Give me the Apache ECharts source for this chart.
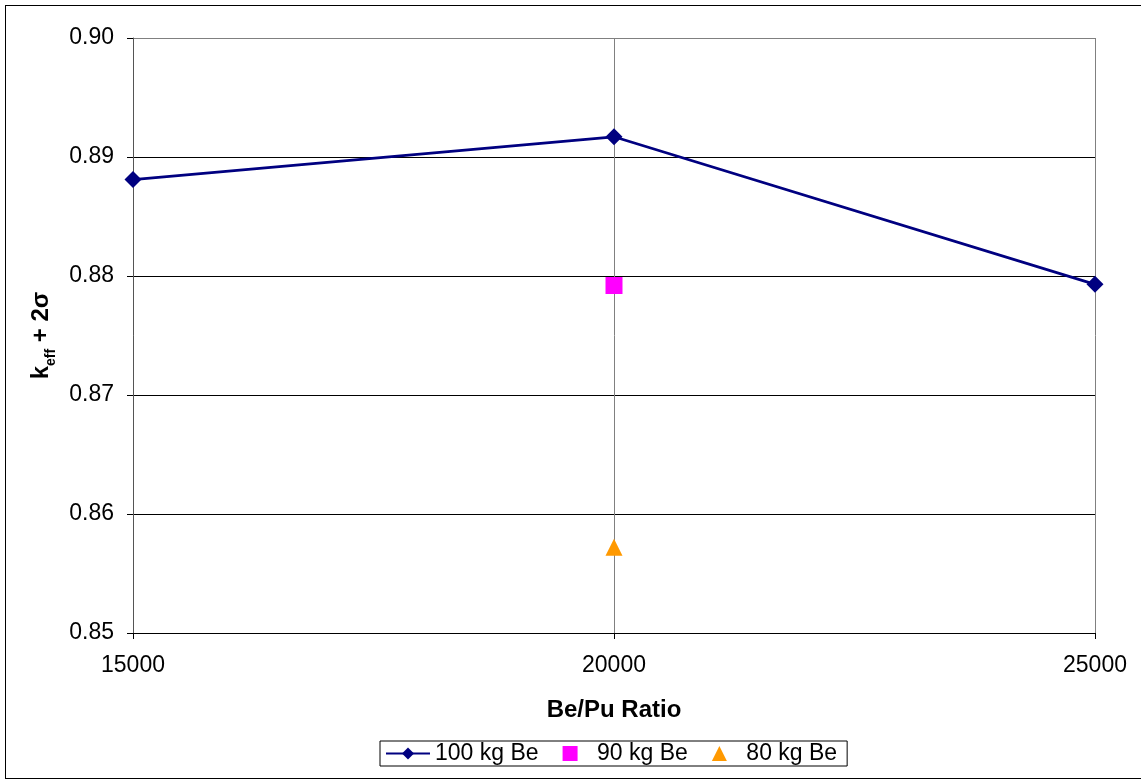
<!DOCTYPE html>
<html><head><meta charset="utf-8">
<script src="https://cdn.jsdelivr.net/npm/echarts@6/dist/echarts.min.js"></script>
<style>html,body{margin:0;padding:0;background:#fff}#c{width:1141px;height:780px;position:relative}
#frame{position:absolute;left:5px;top:5px;width:1140px;height:774px;border:1px solid #000;box-sizing:border-box;pointer-events:none}</style>
</head><body><div id="c"></div><div id="frame"></div>
<script>
const ratios = [15000, 20000, 25000];
const be100 = [0.8881, 0.8917, 0.8793];
const be90 = [[20000, 0.8792]];
const be80 = [[20000, 0.8572]];
const seriesNames = ['100 kg Be', '90 kg Be', '80 kg Be'];

const chart = echarts.init(document.getElementById('c'));
const font = 'Liberation Sans, Arial, sans-serif';
const fs = 23;
chart.setOption({
  animation: false,
  backgroundColor: '#fff',
  grid: {left: 133, right: 46, top: 38, bottom: 147, show: false},
  legend: {
    top: 741, left: 380,
    data: [
      {name: seriesNames[0]},
      {name: seriesNames[1], icon: 'path://M0,0h10v10h-10z'},
      {name: seriesNames[2], icon: 'path://M5,0L10,10L0,10z'}
    ],
    itemWidth: 44, itemHeight: 15, itemGap: 24,
    borderColor: '#000', borderWidth: 1, padding: [1, 10, 1, 5],
    textStyle: {fontFamily: font, fontSize: 23, color: '#000'}
  },
  xAxis: {
    type: 'value', min: 15000, max: 25000, interval: 5000,
    name: 'Be/Pu Ratio', nameLocation: 'middle', nameGap: 65,
    nameTextStyle: {fontFamily: font, fontSize: 24, fontWeight: 'bold', color: '#000'},
    axisLine: {show: true, lineStyle: {color: '#000', width: 1}},
    axisTick: {show: true, inside: false, length: 6, lineStyle: {color: '#000'}},
    axisLabel: {fontFamily: font, fontSize: fs, color: '#000', margin: 21, formatter: v => String(v)},
    splitLine: {show: true, lineStyle: {color: '#808080', width: 1}}
  },
  yAxis: {
    type: 'value', min: 0.85, max: 0.90, interval: 0.01,
    name: '{a|k}{b|eff}{a| + 2σ}', nameLocation: 'middle', nameGap: 80, nameRotate: 90,
    nameTextStyle: {
      rich: {
        a: {fontFamily: font, fontSize: 24, fontWeight: 'bold', color: '#000', verticalAlign: 'bottom'},
        b: {fontFamily: font, fontSize: 14, fontWeight: 'bold', color: '#000', verticalAlign: 'bottom', padding: [0, 0, -5, 0]}
      }
    },
    axisLine: {show: true, lineStyle: {color: '#555', width: 1}},
    axisTick: {show: true, inside: false, length: 6, lineStyle: {color: '#000'}},
    axisLabel: {fontFamily: font, fontSize: fs, color: '#000', margin: 19,
      formatter: v => v.toFixed(2)},
    splitLine: {show: true, lineStyle: {color: ['#000', '#000', '#000', '#000', '#000', '#808080'], width: 1}}
  },
  series: [
    {name: seriesNames[0], type: 'line', data: ratios.map((r, i) => [r, be100[i]]),
     symbol: 'diamond', symbolSize: 17, color: '#000080',
     lineStyle: {color: '#000080', width: 2.75}, itemStyle: {color: '#000080', opacity: 1}},
    {name: seriesNames[1], type: 'scatter', data: be90, symbol: 'rect', symbolSize: 17,
     itemStyle: {color: '#FF00FF', opacity: 1}},
    {name: seriesNames[2], type: 'scatter', data: be80, symbol: 'triangle', symbolSize: 17,
     itemStyle: {color: '#FF9900', opacity: 1}}
  ]
});
</script></body></html>
